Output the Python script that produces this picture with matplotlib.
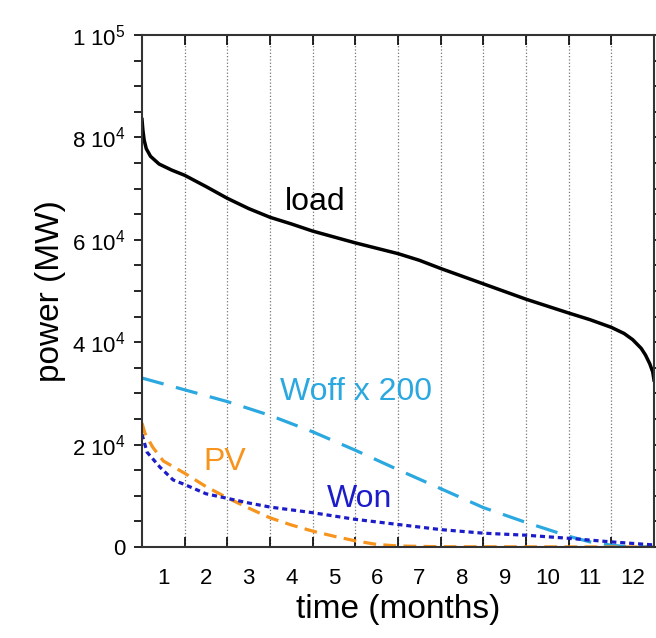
import matplotlib.pyplot as plt
from matplotlib.ticker import FixedLocator, MultipleLocator

plt.rcParams['font.family'] = ['Liberation Sans', 'DejaVu Sans']
plt.rcParams['mathtext.fontset'] = 'custom'
plt.rcParams['mathtext.rm'] = 'Liberation Sans'
plt.rcParams['mathtext.it'] = 'Liberation Sans'

# data (MW)
load_t = [0, 0.02, 0.05, 0.1, 0.2, 0.4, 0.7, 1, 1.5, 2, 2.5, 3, 3.5, 4, 5, 6, 6.5, 7, 8, 9,
          10, 10.5, 11, 11.3, 11.5, 11.7, 11.8, 11.9, 11.97, 12]
load_p = [83500, 81500, 79500, 77800, 76300, 74800, 73600, 72600, 70400, 68100, 66100, 64400,
          63100, 61700, 59400, 57300, 56000, 54400, 51400, 48400, 45700, 44400, 42900, 41700,
          40500, 38800, 37500, 35800, 34200, 32600]

woff_t = [0, 1, 2, 3, 4, 5, 6, 7, 8, 9, 10, 10.5, 11, 11.3, 12]
woff_p = [33000, 30700, 28400, 25700, 22500, 18900, 15100, 11400, 7700, 4800, 2100, 1000, 350,
          100, 0]

pv_t = [0, 0.07, 0.25, 0.5, 1, 1.5, 2, 2.5, 3, 3.5, 4, 4.5, 5, 5.5, 6, 7, 12]
pv_p = [24200, 22200, 19500, 16800, 14400, 11800, 9600, 7600, 5700, 4300, 3100, 2100, 1200,
        500, 200, 50, 0]

won_t = [0, 0.12, 0.42, 0.73, 1, 1.5, 2, 2.5, 3, 4, 5, 6, 7, 8, 9, 10, 11, 12]
won_p = [22000, 18500, 15600, 13100, 12200, 10400, 9500, 8600, 7800, 6700, 5400, 4400, 3400,
         2700, 2300, 1700, 1000, 400]

months = [str(m) for m in range(1, 13)]
yticks = [0, 20000, 40000, 60000, 80000, 100000]
ylabels = ['0', r'2 10$^{4}$', r'4 10$^{4}$', r'6 10$^{4}$', r'8 10$^{4}$', r'1 10$^{5}$']

c_woff = '#2AA8DF'
c_pv = '#F7941D'
c_won = '#1C1CC8'

fig = plt.figure(figsize=(6.56, 6.38), dpi=100)
ax = fig.add_axes([142 / 656, 1 - 547 / 638, 512 / 656, 512 / 638])

# month grid
for m in range(1, 12):
    ax.axvline(m, color='#777777', ls=':', lw=0.9, zorder=0)

ax.plot(load_t, load_p, color='black', lw=2.5)
ax.plot(woff_t, woff_p, color=c_woff, lw=2.3, dashes=(7, 4))
ax.plot(pv_t, pv_p, color=c_pv, lw=2.3, dashes=(4, 2.3))
ax.plot(won_t, won_p, color=c_won, lw=2.3, dashes=(1.6, 1.2))

ax.text(3.35, 65800, 'load', fontsize=23, color='black', va='baseline')
ax.text(3.23, 28700, 'Woff x 200', fontsize=23, color=c_woff, va='baseline')
ax.text(1.43, 15000, 'PV', fontsize=23, color=c_pv, va='baseline')
ax.text(4.34, 7800, 'Won', fontsize=23, color=c_won, va='baseline')

ax.set_xlim(0, 12)
ax.set_ylim(0, 100000)

# x: ticks at month edges, labels at month centers
ax.xaxis.set_major_locator(FixedLocator(range(0, 13)))
ax.xaxis.set_minor_locator(FixedLocator([m - 0.5 for m in range(1, 13)]))
ax.set_xticklabels([''] * 13)
ax.set_xticklabels(months, minor=True)
ax.tick_params(axis='x', which='major', direction='in', length=7, width=1.2, top=True)
ax.tick_params(axis='x', which='minor', length=0, pad=15, labelsize=16)

ax.set_yticks(yticks)
ax.set_yticklabels(ylabels)
ax.yaxis.set_minor_locator(MultipleLocator(5000))
ax.tick_params(axis='y', which='both', direction='out', length=6, width=1.2, labelsize=16,
               pad=6, right=True)

for s in ax.spines.values():
    s.set_linewidth(1.5)
    s.set_color('#333333')

ax.set_xlabel('time (months)', fontsize=24, labelpad=4)
ax.set_ylabel('power (MW)', fontsize=24, labelpad=4)

fig.savefig('out.png', dpi=100)
